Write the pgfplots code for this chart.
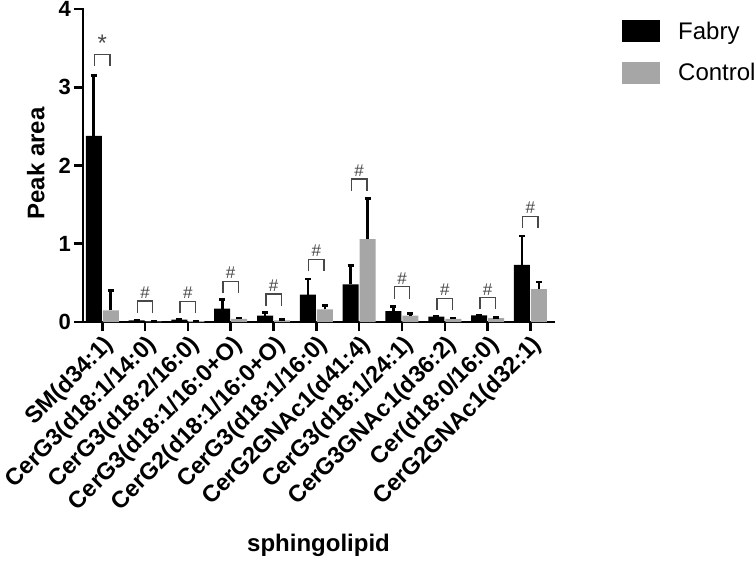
\documentclass[border=0pt]{standalone}
\usepackage{pgfplots}
\pgfplotsset{compat=1.18}
\usepackage{fontspec}
\setmainfont{Liberation Sans}
\definecolor{ctrl}{HTML}{A6A6A6}
\definecolor{brk}{HTML}{484848}
\newcommand{\sig}[4][17]{%
  \draw[line width=1.4pt, brk] (axis cs:#2-0.18,#3-0.15) -- (axis cs:#2-0.18,#3) -- (axis cs:#2+0.18,#3) -- (axis cs:#2+0.18,#3-0.15);
  \node[anchor=south, inner sep=2.5pt, font=\fontsize{#1}{#1}\selectfont, text=brk] at (axis cs:#2,#3) {#4};}
\begin{document}
\begin{tikzpicture}
\path[use as bounding box] (-83pt,-241pt) rectangle (673pt,322pt);
\begin{axis}[
  at={(0,0)}, anchor=south west,
  scale only axis, width=471pt, height=313pt,
  xmin=-0.45, xmax=10.55, ymin=0, ymax=4,
  axis x line*=bottom, axis y line*=left,
  axis line style={line width=2.6pt, line cap=rect},
  every tick/.style={line width=2.6pt, black},
  major tick length=9pt, tick align=outside,
  xtick={0,...,10},
  xticklabels={SM(d34:1),CerG3(d18:1/14:0),CerG3(d18:2/16:0),CerG3(d18:1/16:0+O),CerG2(d18:1/16:0+O),CerG3(d18:1/16:0),CerG2GNAc1(d41:4),CerG3(d18:1/24:1),CerG3GNAc1(d36:2),Cer(d18:0/16:0),CerG2GNAc1(d32:1)},
  x tick label style={rotate=45, anchor=north east, font=\bfseries\fontsize{23.5}{23.5}\selectfont, inner sep=2pt},
  ytick={0,1,2,3,4}, yticklabels={0,1,2,3,4},
  y tick label style={font=\bfseries\fontsize{22}{22}\selectfont, inner sep=3pt},
  every axis y label/.style={at={(axis description cs:-0.1,0.506)}, rotate=90, anchor=center, font=\bfseries\fontsize{24}{24}\selectfont},
  ylabel={Peak area},
  every axis x label/.style={at={(axis description cs:0.5,-0.712)}, anchor=center, font=\bfseries\fontsize{24}{24}\selectfont},
  xlabel={sphingolipid},
  ybar, bar width=16pt,
  legend style={at={(1.1444,0.9649)}, anchor=north west, draw=none, fill=none, inner sep=0pt,
    nodes={inner sep=0pt}, column sep=18pt, row sep=19.5pt, font=\fontsize{24}{24}\selectfont},
  legend cell align=left,
  clip=false,
]
\addplot[fill=black, draw=none, bar shift=-8.5pt,
  legend image code/.code={\fill[black] (0pt,-11pt) rectangle (38pt,11pt);},
  error bars/.cd, y dir=plus, y explicit,
  error bar style={line width=2.6pt, black},
  error mark options={rotate=90, mark size=3pt, line width=2.6pt, black}]
coordinates {
(0,2.38) +- (0,0.77)
(1,0.02) +- (0,0.005)
(2,0.03) +- (0,0.005)
(3,0.17) +- (0,0.12)
(4,0.08) +- (0,0.04)
(5,0.35) +- (0,0.20)
(6,0.48) +- (0,0.24)
(7,0.14) +- (0,0.06)
(8,0.07) +- (0,0.003)
(9,0.085) +- (0,0.005)
(10,0.73) +- (0,0.37)
};
\addplot[fill=ctrl, draw=none, bar shift=8.5pt,
  legend image code/.code={\fill[ctrl] (0pt,-11pt) rectangle (38pt,11pt);},
  error bars/.cd, y dir=plus, y explicit,
  error bar style={line width=2.6pt, black},
  error mark options={rotate=90, mark size=3pt, line width=2.6pt, black}]
coordinates {
(0,0.15) +- (0,0.25)
(1,0.005) +- (0,0.003)
(2,0.01) +- (0,0.003)
(3,0.04) +- (0,0.01)
(4,0.02) +- (0,0.01)
(5,0.16) +- (0,0.05)
(6,1.06) +- (0,0.52)
(7,0.08) +- (0,0.03)
(8,0.04) +- (0,0.01)
(9,0.05) +- (0,0.01)
(10,0.42) +- (0,0.09)
};
\legend{Fabry,Control}
\sig[24]{0}{3.42}{*}
\sig{1}{0.27}{\#}
\sig{2}{0.26}{\#}
\sig{3}{0.52}{\#}
\sig{4}{0.36}{\#}
\sig{5}{0.80}{\#}
\sig{6}{1.83}{\#}
\sig{7}{0.45}{\#}
\sig{8}{0.30}{\#}
\sig{9}{0.31}{\#}
\sig{10}{1.35}{\#}
\end{axis}
\end{tikzpicture}
\end{document}
